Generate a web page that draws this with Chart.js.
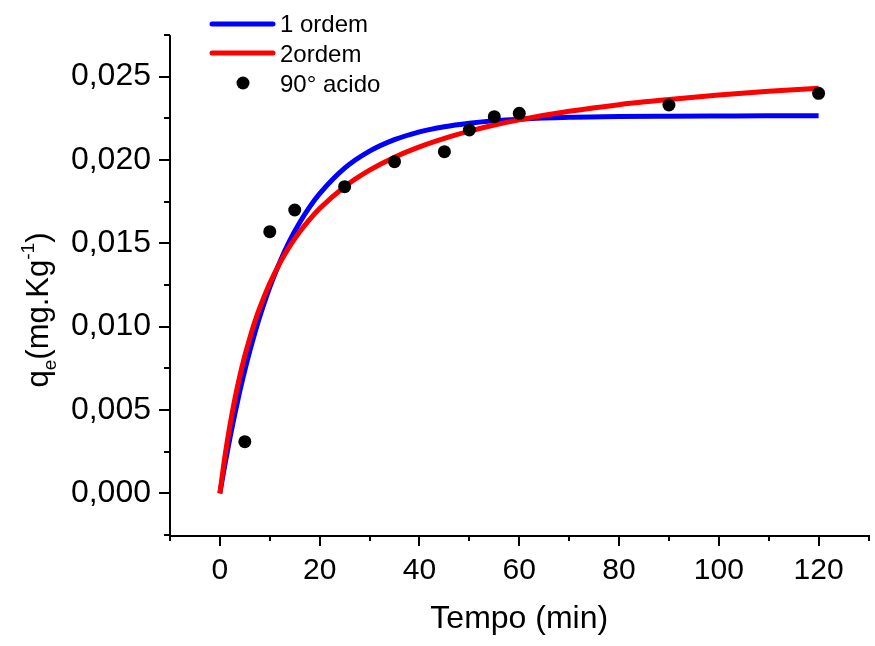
<!DOCTYPE html>
<html>
<head>
<meta charset="utf-8">
<script src="https://cdn.jsdelivr.net/npm/chart.js@4/dist/chart.umd.min.js"></script>
<style>
  html, body { margin: 0; padding: 0; background: #fff; }
  #wrap { width: 875px; height: 646px; }
</style>
</head>
<body>
<div id="wrap"><canvas id="chart" width="875" height="646"></canvas></div>
<script>
// ===============================
// DATA
// ===============================
const pointTimes = [5, 10, 15, 25, 35, 45, 50, 55, 60, 90, 120];
const pointValues = [0.0031, 0.0157, 0.0170, 0.0184, 0.0199, 0.0205, 0.0218, 0.0226, 0.0228, 0.0233, 0.0240];

const curveTimes = [0, 1, 2, 3, 4, 5, 6, 7, 8, 10, 12, 14, 16, 18, 20, 25, 30, 35, 40, 45, 50, 55, 60, 70, 80, 90, 100, 110, 120];
const firstOrder = [0, 0.00172, 0.00331, 0.00478, 0.00614, 0.00739, 0.00855, 0.00962, 0.01061, 0.01237, 0.01387,
    0.01516, 0.01625, 0.01719, 0.01798, 0.01951, 0.02053, 0.02122, 0.02169, 0.02200, 0.02221, 0.02236, 0.02245,
    0.02256, 0.02261, 0.02263, 0.02264, 0.02265, 0.02265];
const secondOrder = [0, 0.00220, 0.00406, 0.00566, 0.00705, 0.00826, 0.00933, 0.01029, 0.01114, 0.01260, 0.01381,
    0.01483, 0.01569, 0.01644, 0.01709, 0.01840, 0.01939, 0.02017, 0.02079, 0.02130, 0.02173, 0.02210, 0.02241,
    0.02292, 0.02332, 0.02363, 0.02390, 0.02412, 0.02430];

const seriesLabels = ["1 ordem", "2ordem", "90° acido"];
const xTickLabels = [0, 20, 40, 60, 80, 100, 120];
const yTickLabels = ["0,000", "0,005", "0,010", "0,015", "0,020", "0,025"];

const FONT = "'Liberation Sans', Arial, sans-serif";

function toXY(xs, ys) {
    return xs.map((x, i) => ({ x: x, y: ys[i] }));
}

// ===============================
// AXES, TICKS, TITLES, LEGEND
// ===============================
const decorPlugin = {
    id: 'decor',
    afterDraw(chart) {
        const ctx = chart.ctx;
        const xs = chart.scales.x;
        const ys = chart.scales.y;
        const area = chart.chartArea;

        ctx.save();
        ctx.strokeStyle = '#000';
        ctx.lineWidth = 2;
        ctx.lineCap = 'butt';

        // axis lines
        ctx.beginPath();
        ctx.moveTo(area.left, area.top);
        ctx.lineTo(area.left, area.bottom + 1);
        ctx.lineTo(area.right, area.bottom + 1);
        ctx.stroke();

        // x ticks
        for (let v = -10; v <= 130; v += 10) {
            const px = Math.round(xs.getPixelForValue(v));
            const len = (v % 20 === 0) ? 11 : 6;
            ctx.beginPath();
            ctx.moveTo(px, area.bottom);
            ctx.lineTo(px, area.bottom + len);
            ctx.stroke();
        }
        // y ticks
        for (let k = -1; k <= 11; k++) {
            const py = Math.round(ys.getPixelForValue(k * 0.0025));
            const len = (k % 2 === 0) ? 11 : 6;
            ctx.beginPath();
            ctx.moveTo(area.left, py);
            ctx.lineTo(area.left - len, py);
            ctx.stroke();
        }

        // x title
        ctx.fillStyle = '#000';
        ctx.font = '32px ' + FONT;
        ctx.textAlign = 'center';
        ctx.textBaseline = 'alphabetic';
        ctx.fillText('Tempo (min)', (area.left + area.right) / 2, 628);

        // y title with sub/superscript
        ctx.save();
        ctx.translate(48, 310);
        ctx.rotate(-Math.PI / 2);
        const parts = [
            { t: 'q', size: 31, dy: 0 },
            { t: 'e', size: 19, dy: 8 },
            { t: '(mg.Kg', size: 31, dy: 0 },
            { t: '-1', size: 19, dy: -14 },
            { t: ')', size: 31, dy: 0 }
        ];
        let total = 0;
        parts.forEach(p => { ctx.font = p.size + 'px ' + FONT; total += ctx.measureText(p.t).width; });
        let cx = -total / 2;
        ctx.textAlign = 'left';
        parts.forEach(p => {
            ctx.font = p.size + 'px ' + FONT;
            ctx.fillText(p.t, cx, p.dy);
            cx += ctx.measureText(p.t).width;
        });
        ctx.restore();

        // legend
        const ds = chart.data.datasets;
        const rows = [
            { y: 24, base: 32 },
            { y: 53, base: 62 },
            { y: 83, base: 92 }
        ];
        ctx.font = '24px ' + FONT;
        ctx.textAlign = 'left';
        rows.forEach((r, i) => {
            const d = ds[i];
            if (d.showLine) {
                ctx.strokeStyle = d.borderColor;
                ctx.lineWidth = 5;
                ctx.lineCap = 'round';
                ctx.beginPath();
                ctx.moveTo(212, r.y);
                ctx.lineTo(273, r.y);
                ctx.stroke();
            } else {
                ctx.fillStyle = d.backgroundColor;
                ctx.beginPath();
                ctx.arc(243, r.y, 6.5, 0, Math.PI * 2);
                ctx.fill();
            }
            ctx.fillStyle = '#000';
            ctx.fillText(d.label, 280, r.base);
        });

        ctx.restore();
    }
};

// ===============================
// CHART
// ===============================
const ctx = document.getElementById('chart').getContext('2d');

new Chart(ctx, {
    type: 'scatter',
    data: {
        datasets: [
            {
                label: seriesLabels[0],
                data: toXY(curveTimes, firstOrder),
                showLine: true,
                borderColor: '#0000ff',
                backgroundColor: '#0000ff',
                borderWidth: 5,
                pointRadius: 0,
                cubicInterpolationMode: 'monotone',
                order: 3
            },
            {
                label: seriesLabels[1],
                data: toXY(curveTimes, secondOrder),
                showLine: true,
                borderColor: '#ff0000',
                backgroundColor: '#ff0000',
                borderWidth: 5,
                pointRadius: 0,
                cubicInterpolationMode: 'monotone',
                order: 2
            },
            {
                label: seriesLabels[2],
                data: toXY(pointTimes, pointValues),
                showLine: false,
                backgroundColor: '#000000',
                borderColor: '#000000',
                borderWidth: 0,
                pointRadius: 6.5,
                order: 1
            }
        ]
    },
    options: {
        responsive: false,
        animation: false,
        layout: { padding: { top: 35, right: 3, left: 0, bottom: 0 } },
        plugins: {
            legend: { display: false },
            tooltip: { enabled: false }
        },
        scales: {
            x: {
                type: 'linear',
                min: -10,
                max: 130,
                afterFit(scale) {
                    scale.height = 111;
                    scale.paddingLeft = 0;
                    scale.paddingRight = 0;
                },
                grid: { display: false, drawTicks: false },
                border: { display: false },
                ticks: {
                    stepSize: 10,
                    autoSkip: false,
                    maxRotation: 0,
                    padding: 18,
                    color: '#000',
                    font: { family: FONT, size: 30 },
                    callback: v => xTickLabels.includes(v) ? String(v) : ''
                }
            },
            y: {
                type: 'linear',
                min: -0.0025,
                max: 0.0275,
                afterFit(scale) {
                    scale.width = 170;
                    scale.paddingTop = 0;
                    scale.paddingBottom = 0;
                },
                grid: { display: false, drawTicks: false },
                border: { display: false },
                ticks: {
                    stepSize: 0.0025,
                    autoSkip: false,
                    padding: 19,
                    color: '#000',
                    font: { family: FONT, size: 32 },
                    callback: v => {
                        const k = Math.round(v / 0.0025);
                        if (k < 0 || k % 2 !== 0) return '';
                        return yTickLabels[k / 2] || '';
                    }
                }
            }
        }
    },
    plugins: [decorPlugin]
});
</script>
</body>
</html>
